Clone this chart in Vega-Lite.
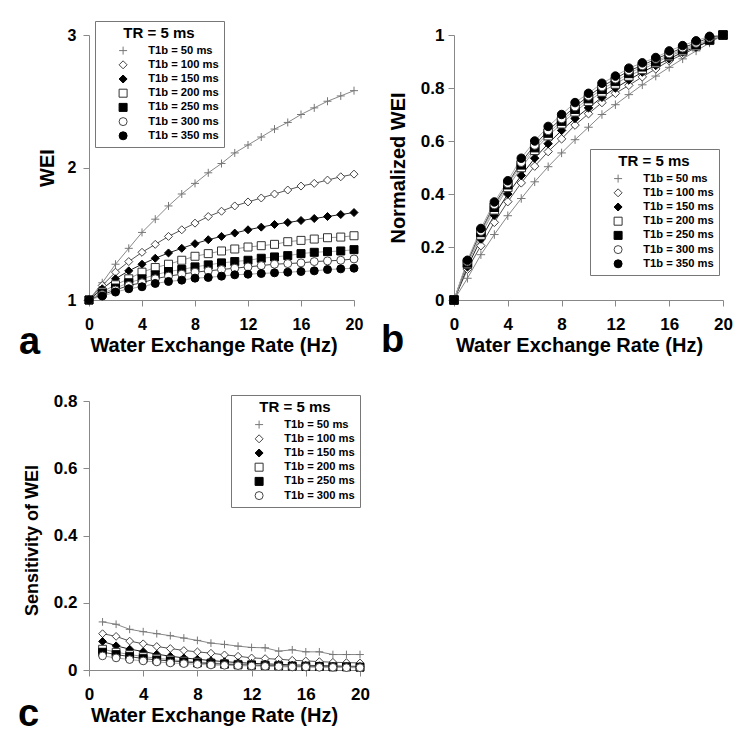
{
"$schema": "https://vega.github.io/schema/vega-lite/v6.json",
"background": "white",
"padding": {"left": 18, "top": 20, "right": 5, "bottom": 5},
"columns": 2,
"spacing": {"row": 101, "column": 94},
"bounds": "flush",
"config": {
  "font": "Liberation Sans",
  "view": {"stroke": null},
  "axis": {"grid": false, "domainColor": "#888", "tickColor": "#888", "domainWidth": 1, "tickWidth": 1, "tickSize": 6, "labelFlush": false,
    "labelFont": "Liberation Sans", "labelFontWeight": "bold", "labelColor": "black", "labelFontSize": 16, "labelPadding": 7,
    "titleFont": "Liberation Sans", "titleFontWeight": "bold", "titleColor": "black", "titleFontSize": 20, "titlePadding": 6},
  "axisX": {"labelPadding": 10, "titlePadding": 3},
  "legend": {"titleFont": "Liberation Sans", "titleFontWeight": "bold", "titleFontSize": 15, "titleColor": "black", "titleAnchor": "middle", "titlePadding": 4,
    "labelFont": "Liberation Sans", "labelFontWeight": "bold", "labelFontSize": 11.2, "labelColor": "black",
    "strokeColor": "#777", "fillColor": "white", "padding": 5, "symbolSize": 64, "symbolStrokeWidth": 1, "symbolOffset": 17.5, "labelOffset": 19.5,
    "rowPadding": 1.2}
},
"resolve": {"scale": {"shape": "independent", "fill": "independent", "stroke": "independent"}, "legend": {"shape": "independent", "fill": "independent", "stroke": "independent"}},
"datasets": {
"A": [
{"t":50,"x":0,"v":1},{"t":50,"x":1,"v":1.13},{"t":50,"x":2,"v":1.27},{"t":50,"x":3,"v":1.39},{"t":50,"x":4,"v":1.51},{"t":50,"x":5,"v":1.61},{"t":50,"x":6,"v":1.71},{"t":50,"x":7,"v":1.8},{"t":50,"x":8,"v":1.88},{"t":50,"x":9,"v":1.96},{"t":50,"x":10,"v":2.03},{"t":50,"x":11,"v":2.11},{"t":50,"x":12,"v":2.17},{"t":50,"x":13,"v":2.23},{"t":50,"x":14,"v":2.29},{"t":50,"x":15,"v":2.34},{"t":50,"x":16,"v":2.4},{"t":50,"x":17,"v":2.45},{"t":50,"x":18,"v":2.5},{"t":50,"x":19,"v":2.54},{"t":50,"x":20,"v":2.58},
{"t":100,"x":0,"v":1},{"t":100,"x":1,"v":1.11},{"t":100,"x":2,"v":1.21},{"t":100,"x":3,"v":1.29},{"t":100,"x":4,"v":1.36},{"t":100,"x":5,"v":1.42},{"t":100,"x":6,"v":1.48},{"t":100,"x":7,"v":1.53},{"t":100,"x":8,"v":1.58},{"t":100,"x":9,"v":1.63},{"t":100,"x":10,"v":1.67},{"t":100,"x":11,"v":1.71},{"t":100,"x":12,"v":1.74},{"t":100,"x":13,"v":1.77},{"t":100,"x":14,"v":1.8},{"t":100,"x":15,"v":1.83},{"t":100,"x":16,"v":1.86},{"t":100,"x":17,"v":1.88},{"t":100,"x":18,"v":1.905},{"t":100,"x":19,"v":1.93},{"t":100,"x":20,"v":1.95},
{"t":150,"x":0,"v":1},{"t":150,"x":1,"v":1.085},{"t":150,"x":2,"v":1.16},{"t":150,"x":3,"v":1.22},{"t":150,"x":4,"v":1.27},{"t":150,"x":5,"v":1.315},{"t":150,"x":6,"v":1.355},{"t":150,"x":7,"v":1.39},{"t":150,"x":8,"v":1.425},{"t":150,"x":9,"v":1.455},{"t":150,"x":10,"v":1.48},{"t":150,"x":11,"v":1.505},{"t":150,"x":12,"v":1.53},{"t":150,"x":13,"v":1.55},{"t":150,"x":14,"v":1.57},{"t":150,"x":15,"v":1.585},{"t":150,"x":16,"v":1.6},{"t":150,"x":17,"v":1.615},{"t":150,"x":18,"v":1.63},{"t":150,"x":19,"v":1.645},{"t":150,"x":20,"v":1.66},
{"t":200,"x":0,"v":1},{"t":200,"x":1,"v":1.06},{"t":200,"x":2,"v":1.115},{"t":200,"x":3,"v":1.16},{"t":200,"x":4,"v":1.21},{"t":200,"x":5,"v":1.245},{"t":200,"x":6,"v":1.27},{"t":200,"x":7,"v":1.3},{"t":200,"x":8,"v":1.33},{"t":200,"x":9,"v":1.35},{"t":200,"x":10,"v":1.37},{"t":200,"x":11,"v":1.385},{"t":200,"x":12,"v":1.4},{"t":200,"x":13,"v":1.41},{"t":200,"x":14,"v":1.42},{"t":200,"x":15,"v":1.44},{"t":200,"x":16,"v":1.45},{"t":200,"x":17,"v":1.46},{"t":200,"x":18,"v":1.47},{"t":200,"x":19,"v":1.475},{"t":200,"x":20,"v":1.485},
{"t":250,"x":0,"v":1},{"t":250,"x":1,"v":1.05},{"t":250,"x":2,"v":1.09},{"t":250,"x":3,"v":1.13},{"t":250,"x":4,"v":1.16},{"t":250,"x":5,"v":1.19},{"t":250,"x":6,"v":1.215},{"t":250,"x":7,"v":1.23},{"t":250,"x":8,"v":1.25},{"t":250,"x":9,"v":1.265},{"t":250,"x":10,"v":1.28},{"t":250,"x":11,"v":1.29},{"t":250,"x":12,"v":1.3},{"t":250,"x":13,"v":1.315},{"t":250,"x":14,"v":1.325},{"t":250,"x":15,"v":1.335},{"t":250,"x":16,"v":1.35},{"t":250,"x":17,"v":1.36},{"t":250,"x":18,"v":1.365},{"t":250,"x":19,"v":1.37},{"t":250,"x":20,"v":1.38},
{"t":300,"x":0,"v":1},{"t":300,"x":1,"v":1.04},{"t":300,"x":2,"v":1.075},{"t":300,"x":3,"v":1.11},{"t":300,"x":4,"v":1.13},{"t":300,"x":5,"v":1.16},{"t":300,"x":6,"v":1.18},{"t":300,"x":7,"v":1.195},{"t":300,"x":8,"v":1.21},{"t":300,"x":9,"v":1.22},{"t":300,"x":10,"v":1.23},{"t":300,"x":11,"v":1.24},{"t":300,"x":12,"v":1.25},{"t":300,"x":13,"v":1.26},{"t":300,"x":14,"v":1.27},{"t":300,"x":15,"v":1.275},{"t":300,"x":16,"v":1.28},{"t":300,"x":17,"v":1.29},{"t":300,"x":18,"v":1.295},{"t":300,"x":19,"v":1.3},{"t":300,"x":20,"v":1.31},
{"t":350,"x":0,"v":1},{"t":350,"x":1,"v":1.03},{"t":350,"x":2,"v":1.06},{"t":350,"x":3,"v":1.085},{"t":350,"x":4,"v":1.1},{"t":350,"x":5,"v":1.125},{"t":350,"x":6,"v":1.14},{"t":350,"x":7,"v":1.15},{"t":350,"x":8,"v":1.165},{"t":350,"x":9,"v":1.17},{"t":350,"x":10,"v":1.18},{"t":350,"x":11,"v":1.19},{"t":350,"x":12,"v":1.195},{"t":350,"x":13,"v":1.2},{"t":350,"x":14,"v":1.205},{"t":350,"x":15,"v":1.21},{"t":350,"x":16,"v":1.215},{"t":350,"x":17,"v":1.22},{"t":350,"x":18,"v":1.23},{"t":350,"x":19,"v":1.235},{"t":350,"x":20,"v":1.24}
],
"B": [
{"t":50,"x":0,"v":0},{"t":50,"x":1,"v":0.082},{"t":50,"x":2,"v":0.171},{"t":50,"x":3,"v":0.247},{"t":50,"x":4,"v":0.318},{"t":50,"x":5,"v":0.383},{"t":50,"x":6,"v":0.446},{"t":50,"x":7,"v":0.503},{"t":50,"x":8,"v":0.555},{"t":50,"x":9,"v":0.605},{"t":50,"x":10,"v":0.652},{"t":50,"x":11,"v":0.7},{"t":50,"x":12,"v":0.737},{"t":50,"x":13,"v":0.775},{"t":50,"x":14,"v":0.812},{"t":50,"x":15,"v":0.845},{"t":50,"x":16,"v":0.878},{"t":50,"x":17,"v":0.91},{"t":50,"x":18,"v":0.94},{"t":50,"x":19,"v":0.97},{"t":50,"x":20,"v":1},
{"t":100,"x":0,"v":0},{"t":100,"x":1,"v":0.116},{"t":100,"x":2,"v":0.205},{"t":100,"x":3,"v":0.293},{"t":100,"x":4,"v":0.371},{"t":100,"x":5,"v":0.442},{"t":100,"x":6,"v":0.505},{"t":100,"x":7,"v":0.56},{"t":100,"x":8,"v":0.608},{"t":100,"x":9,"v":0.66},{"t":100,"x":10,"v":0.703},{"t":100,"x":11,"v":0.745},{"t":100,"x":12,"v":0.78},{"t":100,"x":13,"v":0.81},{"t":100,"x":14,"v":0.842},{"t":100,"x":15,"v":0.872},{"t":100,"x":16,"v":0.903},{"t":100,"x":17,"v":0.926},{"t":100,"x":18,"v":0.953},{"t":100,"x":19,"v":0.978},{"t":100,"x":20,"v":1},
{"t":150,"x":0,"v":0},{"t":150,"x":1,"v":0.125},{"t":150,"x":2,"v":0.23},{"t":150,"x":3,"v":0.32},{"t":150,"x":4,"v":0.4},{"t":150,"x":5,"v":0.47},{"t":150,"x":6,"v":0.535},{"t":150,"x":7,"v":0.59},{"t":150,"x":8,"v":0.64},{"t":150,"x":9,"v":0.685},{"t":150,"x":10,"v":0.725},{"t":150,"x":11,"v":0.765},{"t":150,"x":12,"v":0.8},{"t":150,"x":13,"v":0.83},{"t":150,"x":14,"v":0.86},{"t":150,"x":15,"v":0.885},{"t":150,"x":16,"v":0.91},{"t":150,"x":17,"v":0.935},{"t":150,"x":18,"v":0.955},{"t":150,"x":19,"v":0.978},{"t":150,"x":20,"v":1},
{"t":200,"x":0,"v":0},{"t":200,"x":1,"v":0.135},{"t":200,"x":2,"v":0.245},{"t":200,"x":3,"v":0.34},{"t":200,"x":4,"v":0.425},{"t":200,"x":5,"v":0.5},{"t":200,"x":6,"v":0.565},{"t":200,"x":7,"v":0.62},{"t":200,"x":8,"v":0.665},{"t":200,"x":9,"v":0.71},{"t":200,"x":10,"v":0.75},{"t":200,"x":11,"v":0.785},{"t":200,"x":12,"v":0.815},{"t":200,"x":13,"v":0.845},{"t":200,"x":14,"v":0.87},{"t":200,"x":15,"v":0.895},{"t":200,"x":16,"v":0.92},{"t":200,"x":17,"v":0.94},{"t":200,"x":18,"v":0.96},{"t":200,"x":19,"v":0.98},{"t":200,"x":20,"v":1},
{"t":250,"x":0,"v":0},{"t":250,"x":1,"v":0.14},{"t":250,"x":2,"v":0.255},{"t":250,"x":3,"v":0.35},{"t":250,"x":4,"v":0.435},{"t":250,"x":5,"v":0.51},{"t":250,"x":6,"v":0.575},{"t":250,"x":7,"v":0.63},{"t":250,"x":8,"v":0.675},{"t":250,"x":9,"v":0.72},{"t":250,"x":10,"v":0.76},{"t":250,"x":11,"v":0.795},{"t":250,"x":12,"v":0.825},{"t":250,"x":13,"v":0.855},{"t":250,"x":14,"v":0.88},{"t":250,"x":15,"v":0.9},{"t":250,"x":16,"v":0.925},{"t":250,"x":17,"v":0.945},{"t":250,"x":18,"v":0.965},{"t":250,"x":19,"v":0.982},{"t":250,"x":20,"v":1},
{"t":300,"x":0,"v":0},{"t":300,"x":1,"v":0.145},{"t":300,"x":2,"v":0.26},{"t":300,"x":3,"v":0.36},{"t":300,"x":4,"v":0.44},{"t":300,"x":5,"v":0.52},{"t":300,"x":6,"v":0.585},{"t":300,"x":7,"v":0.64},{"t":300,"x":8,"v":0.685},{"t":300,"x":9,"v":0.73},{"t":300,"x":10,"v":0.77},{"t":300,"x":11,"v":0.805},{"t":300,"x":12,"v":0.835},{"t":300,"x":13,"v":0.865},{"t":300,"x":14,"v":0.885},{"t":300,"x":15,"v":0.91},{"t":300,"x":16,"v":0.93},{"t":300,"x":17,"v":0.952},{"t":300,"x":18,"v":0.97},{"t":300,"x":19,"v":0.99},{"t":300,"x":20,"v":1},
{"t":350,"x":0,"v":0},{"t":350,"x":1,"v":0.15},{"t":350,"x":2,"v":0.27},{"t":350,"x":3,"v":0.37},{"t":350,"x":4,"v":0.45},{"t":350,"x":5,"v":0.535},{"t":350,"x":6,"v":0.6},{"t":350,"x":7,"v":0.655},{"t":350,"x":8,"v":0.7},{"t":350,"x":9,"v":0.745},{"t":350,"x":10,"v":0.78},{"t":350,"x":11,"v":0.818},{"t":350,"x":12,"v":0.845},{"t":350,"x":13,"v":0.875},{"t":350,"x":14,"v":0.895},{"t":350,"x":15,"v":0.915},{"t":350,"x":16,"v":0.94},{"t":350,"x":17,"v":0.96},{"t":350,"x":18,"v":0.978},{"t":350,"x":19,"v":0.995},{"t":350,"x":20,"v":1}
],
"C": [
{"t":50,"x":1,"v":0.143},{"t":50,"x":2,"v":0.136},{"t":50,"x":3,"v":0.121},{"t":50,"x":4,"v":0.114},{"t":50,"x":5,"v":0.108},{"t":50,"x":6,"v":0.102},{"t":50,"x":7,"v":0.095},{"t":50,"x":8,"v":0.088},{"t":50,"x":9,"v":0.08},{"t":50,"x":10,"v":0.076},{"t":50,"x":11,"v":0.071},{"t":50,"x":12,"v":0.067},{"t":50,"x":13,"v":0.066},{"t":50,"x":14,"v":0.056},{"t":50,"x":15,"v":0.06},{"t":50,"x":16,"v":0.054},{"t":50,"x":17,"v":0.054},{"t":50,"x":18,"v":0.046},{"t":50,"x":19,"v":0.046},{"t":50,"x":20,"v":0.046},
{"t":100,"x":1,"v":0.108},{"t":100,"x":2,"v":0.1},{"t":100,"x":3,"v":0.086},{"t":100,"x":4,"v":0.078},{"t":100,"x":5,"v":0.07},{"t":100,"x":6,"v":0.064},{"t":100,"x":7,"v":0.058},{"t":100,"x":8,"v":0.054},{"t":100,"x":9,"v":0.05},{"t":100,"x":10,"v":0.045},{"t":100,"x":11,"v":0.041},{"t":100,"x":12,"v":0.036},{"t":100,"x":13,"v":0.034},{"t":100,"x":14,"v":0.032},{"t":100,"x":15,"v":0.029},{"t":100,"x":16,"v":0.027},{"t":100,"x":17,"v":0.025},{"t":100,"x":18,"v":0.023},{"t":100,"x":19,"v":0.022},{"t":100,"x":20,"v":0.021},
{"t":150,"x":1,"v":0.085},{"t":150,"x":2,"v":0.072},{"t":150,"x":3,"v":0.062},{"t":150,"x":4,"v":0.055},{"t":150,"x":5,"v":0.047},{"t":150,"x":6,"v":0.041},{"t":150,"x":7,"v":0.036},{"t":150,"x":8,"v":0.032},{"t":150,"x":9,"v":0.028},{"t":150,"x":10,"v":0.025},{"t":150,"x":11,"v":0.022},{"t":150,"x":12,"v":0.02},{"t":150,"x":13,"v":0.018},{"t":150,"x":14,"v":0.017},{"t":150,"x":15,"v":0.015},{"t":150,"x":16,"v":0.014},{"t":150,"x":17,"v":0.013},{"t":150,"x":18,"v":0.012},{"t":150,"x":19,"v":0.011},{"t":150,"x":20,"v":0.011},
{"t":200,"x":1,"v":0.062},{"t":200,"x":2,"v":0.053},{"t":200,"x":3,"v":0.046},{"t":200,"x":4,"v":0.04},{"t":200,"x":5,"v":0.035},{"t":200,"x":6,"v":0.031},{"t":200,"x":7,"v":0.027},{"t":200,"x":8,"v":0.024},{"t":200,"x":9,"v":0.021},{"t":200,"x":10,"v":0.019},{"t":200,"x":11,"v":0.017},{"t":200,"x":12,"v":0.016},{"t":200,"x":13,"v":0.015},{"t":200,"x":14,"v":0.013},{"t":200,"x":15,"v":0.012},{"t":200,"x":16,"v":0.012},{"t":200,"x":17,"v":0.011},{"t":200,"x":18,"v":0.01},{"t":200,"x":19,"v":0.01},{"t":200,"x":20,"v":0.009},
{"t":250,"x":1,"v":0.053},{"t":250,"x":2,"v":0.046},{"t":250,"x":3,"v":0.04},{"t":250,"x":4,"v":0.034},{"t":250,"x":5,"v":0.03},{"t":250,"x":6,"v":0.027},{"t":250,"x":7,"v":0.024},{"t":250,"x":8,"v":0.021},{"t":250,"x":9,"v":0.019},{"t":250,"x":10,"v":0.017},{"t":250,"x":11,"v":0.015},{"t":250,"x":12,"v":0.014},{"t":250,"x":13,"v":0.013},{"t":250,"x":14,"v":0.012},{"t":250,"x":15,"v":0.011},{"t":250,"x":16,"v":0.01},{"t":250,"x":17,"v":0.01},{"t":250,"x":18,"v":0.009},{"t":250,"x":19,"v":0.009},{"t":250,"x":20,"v":0.008},
{"t":300,"x":1,"v":0.042},{"t":300,"x":2,"v":0.036},{"t":300,"x":3,"v":0.031},{"t":300,"x":4,"v":0.027},{"t":300,"x":5,"v":0.024},{"t":300,"x":6,"v":0.021},{"t":300,"x":7,"v":0.019},{"t":300,"x":8,"v":0.017},{"t":300,"x":9,"v":0.015},{"t":300,"x":10,"v":0.014},{"t":300,"x":11,"v":0.013},{"t":300,"x":12,"v":0.012},{"t":300,"x":13,"v":0.011},{"t":300,"x":14,"v":0.01},{"t":300,"x":15,"v":0.009},{"t":300,"x":16,"v":0.009},{"t":300,"x":17,"v":0.008},{"t":300,"x":18,"v":0.008},{"t":300,"x":19,"v":0.007},{"t":300,"x":20,"v":0.007}
]
},
"concat": [
{
  "width": 265, "height": 265,
  "data": {"name": "A"},
  "title": {"text": "a", "orient": "bottom", "anchor": "start", "frame": "group", "dx": -70, "dy": -31, "offset": 0, "fontSize": 38, "font": "Liberation Sans", "fontWeight": "bold", "color": "black"},
  "encoding": {
    "x": {"field": "x", "type": "quantitative", "scale": {"domain": [0, 20], "nice": false}, "axis": {"values": [0, 4, 8, 12, 16, 20], "title": "Water Exchange Rate (Hz)", "titleX": 124.5}},
    "y": {"field": "v", "type": "quantitative", "scale": {"domain": [1, 3], "nice": false, "zero": false}, "axis": {"values": [1, 2, 3], "format": "~g", "title": "WEI", "titlePadding": 10}}
  },
  "layer": [
    {"mark": {"type": "line", "strokeWidth": 1},
     "encoding": {"detail": {"field": "t", "type": "nominal"},
       "color": {"condition": [{"test": "datum.t==50", "value": "#888"}, {"test": "datum.t==100", "value": "#555"}, {"test": "datum.t==150", "value": "#222"}, {"test": "datum.t==200", "value": "#999"}, {"test": "datum.t==300", "value": "#444"}], "value": "#aaa"}}},
    {"mark": {"type": "point", "opacity": 1, "strokeWidth": 1, "size": 64},
     "encoding": {
       "shape": {"field": "t", "type": "nominal", "scale": {"domain": [50,100,150,200,250,300,350], "range": ["M-1,0L1,0M0,-1L0,1","diamond","diamond","square","square","circle","circle"]},
         "legend": {"title": "TR = 5 ms", "orient": "none", "legendX": 6, "legendY": -14, "labelExpr": "'T1b = ' + datum.label + ' ms'",
           "encode": {"symbols": {"update": {
             "strokeWidth": {"value": 1},
             "shape": {"signal": "['M-5,0L5,0M0,-1L0,1','M-5,0L-1,0M1,0L5,0M0,-1L1,0L0,1L-1,0Z','M-5,0L-1,0M1,0L5,0M0,-1L1,0L0,1L-1,0Z','M-5,0L-0.9,0M0.9,0L5,0M-0.9,-0.9L0.9,-0.9L0.9,0.9L-0.9,0.9Z','M-5,0L-0.9,0M0.9,0L5,0M-0.9,-0.9L0.9,-0.9L0.9,0.9L-0.9,0.9Z','M-5,0L-0.9,0M0.9,0L5,0M0.9,0A0.9,0.9,0,1,1,-0.9,0A0.9,0.9,0,1,1,0.9,0Z','M-5,0L-0.9,0M0.9,0L5,0M0.9,0A0.9,0.9,0,1,1,-0.9,0A0.9,0.9,0,1,1,0.9,0Z'][datum.value/50-1]"}
           }}}}},
       "fill": {"field": "t", "type": "nominal", "scale": {"domain": [50,100,150,200,250,300,350], "range": ["transparent","white","black","white","black","white","black"]},
         "legend": {"title": "TR = 5 ms", "orient": "none", "legendX": 6, "legendY": -14, "labelExpr": "'T1b = ' + datum.label + ' ms'"}},
       "stroke": {"field": "t", "type": "nominal", "scale": {"domain": [50,100,150,200,250,300,350], "range": ["#777","#444","black","#333","black","#444","black"]},
         "legend": {"title": "TR = 5 ms", "orient": "none", "legendX": 6, "legendY": -14, "labelExpr": "'T1b = ' + datum.label + ' ms'"}}
     }}
  ]
},
{
  "width": 269, "height": 265,
  "data": {"name": "B"},
  "title": {"text": "b", "orient": "bottom", "anchor": "start", "frame": "group", "dx": -73, "dy": -33, "offset": 0, "fontSize": 38, "font": "Liberation Sans", "fontWeight": "bold", "color": "black"},
  "encoding": {
    "x": {"field": "x", "type": "quantitative", "scale": {"domain": [0, 20], "nice": false}, "axis": {"values": [0, 4, 8, 12, 16, 20], "title": "Water Exchange Rate (Hz)", "labelFontSize": 17, "titleX": 125}},
    "y": {"field": "v", "type": "quantitative", "scale": {"domain": [0, 1], "nice": false}, "axis": {"values": [0, 0.2, 0.4, 0.6, 0.8, 1], "format": "~g", "title": "Normalized WEI", "labelFontSize": 17, "labelPadding": 4, "titlePadding": 12}}
  },
  "layer": [
    {"mark": {"type": "line", "strokeWidth": 1},
     "encoding": {"detail": {"field": "t", "type": "nominal"},
       "color": {"condition": [{"test": "datum.t==50", "value": "#888"}, {"test": "datum.t==100", "value": "#555"}, {"test": "datum.t==150", "value": "#222"}, {"test": "datum.t==200", "value": "#999"}, {"test": "datum.t==300", "value": "#444"}], "value": "#aaa"}}},
    {"mark": {"type": "point", "opacity": 1, "strokeWidth": 1, "size": 72},
     "encoding": {
       "shape": {"field": "t", "type": "nominal", "scale": {"domain": [50,100,150,200,250,300,350], "range": ["M-1,0L1,0M0,-1L0,1","diamond","diamond","square","square","circle","circle"]},
         "legend": {"title": "TR = 5 ms", "orient": "none", "legendX": 136, "legendY": 114, "labelExpr": "'T1b = ' + datum.label + ' ms'",
           "encode": {"symbols": {"update": {
             "strokeWidth": {"value": 1},
             "shape": {"signal": "['M-5,0L5,0M0,-1L0,1','M-5,0L-1,0M1,0L5,0M0,-1L1,0L0,1L-1,0Z','M-5,0L-1,0M1,0L5,0M0,-1L1,0L0,1L-1,0Z','M-5,0L-0.9,0M0.9,0L5,0M-0.9,-0.9L0.9,-0.9L0.9,0.9L-0.9,0.9Z','M-5,0L-0.9,0M0.9,0L5,0M-0.9,-0.9L0.9,-0.9L0.9,0.9L-0.9,0.9Z','M-5,0L-0.9,0M0.9,0L5,0M0.9,0A0.9,0.9,0,1,1,-0.9,0A0.9,0.9,0,1,1,0.9,0Z','M-5,0L-0.9,0M0.9,0L5,0M0.9,0A0.9,0.9,0,1,1,-0.9,0A0.9,0.9,0,1,1,0.9,0Z'][datum.value/50-1]"}
           }}}}},
       "fill": {"field": "t", "type": "nominal", "scale": {"domain": [50,100,150,200,250,300,350], "range": ["transparent","white","black","white","black","white","black"]},
         "legend": {"title": "TR = 5 ms", "orient": "none", "legendX": 136, "legendY": 114, "labelExpr": "'T1b = ' + datum.label + ' ms'"}},
       "stroke": {"field": "t", "type": "nominal", "scale": {"domain": [50,100,150,200,250,300,350], "range": ["#777","#444","black","#333","black","#444","black"]},
         "legend": {"title": "TR = 5 ms", "orient": "none", "legendX": 136, "legendY": 114, "labelExpr": "'T1b = ' + datum.label + ' ms'"}}
     }}
  ]
},
{
  "width": 271, "height": 269,
  "data": {"name": "C"},
  "title": {"text": "c", "orient": "bottom", "anchor": "start", "frame": "group", "dx": -71, "dy": -29, "offset": 0, "fontSize": 38, "font": "Liberation Sans", "fontWeight": "bold", "color": "black"},
  "encoding": {
    "x": {"field": "x", "type": "quantitative", "scale": {"domain": [0, 20], "nice": false}, "axis": {"values": [0, 4, 8, 12, 16, 20], "title": "Water Exchange Rate (Hz)", "labelFontSize": 17, "titleX": 125}},
    "y": {"field": "v", "type": "quantitative", "scale": {"domain": [0, 0.8], "nice": false}, "axis": {"values": [0, 0.2, 0.4, 0.6, 0.8], "format": "~g", "title": "Sensitivity of WEI", "titleFontSize": 18, "titleY": 139, "labelFontSize": 17, "labelPadding": 6, "titlePadding": 12}}
  },
  "layer": [
    {"mark": {"type": "line", "strokeWidth": 1},
     "encoding": {"detail": {"field": "t", "type": "nominal"},
       "color": {"condition": [{"test": "datum.t==50", "value": "#888"}, {"test": "datum.t==100", "value": "#555"}, {"test": "datum.t==150", "value": "#222"}, {"test": "datum.t==200", "value": "#999"}, {"test": "datum.t==250", "value": "#444"}], "value": "#aaa"}}},
    {"mark": {"type": "point", "opacity": 1, "strokeWidth": 1, "size": 60},
     "encoding": {
       "shape": {"field": "t", "type": "nominal", "scale": {"domain": [50,100,150,200,250,300], "range": ["M-1,0L1,0M0,-1L0,1","diamond","diamond","square","square","circle"]},
         "legend": {"title": "TR = 5 ms", "orient": "none", "legendX": 142, "legendY": -6, "labelExpr": "'T1b = ' + datum.label + ' ms'",
           "encode": {"symbols": {"update": {
             "strokeWidth": {"value": 1},
             "shape": {"signal": "['M-5,0L5,0M0,-1L0,1','M-5,0L-1,0M1,0L5,0M0,-1L1,0L0,1L-1,0Z','M-5,0L-1,0M1,0L5,0M0,-1L1,0L0,1L-1,0Z','M-5,0L-0.9,0M0.9,0L5,0M-0.9,-0.9L0.9,-0.9L0.9,0.9L-0.9,0.9Z','M-5,0L-0.9,0M0.9,0L5,0M-0.9,-0.9L0.9,-0.9L0.9,0.9L-0.9,0.9Z','M-5,0L-0.9,0M0.9,0L5,0M0.9,0A0.9,0.9,0,1,1,-0.9,0A0.9,0.9,0,1,1,0.9,0Z'][datum.value/50-1]"}
           }}}}},
       "fill": {"field": "t", "type": "nominal", "scale": {"domain": [50,100,150,200,250,300], "range": ["transparent","white","black","white","black","white"]},
         "legend": {"title": "TR = 5 ms", "orient": "none", "legendX": 142, "legendY": -6, "labelExpr": "'T1b = ' + datum.label + ' ms'"}},
       "stroke": {"field": "t", "type": "nominal", "scale": {"domain": [50,100,150,200,250,300], "range": ["#777","#444","black","#333","black","#444"]},
         "legend": {"title": "TR = 5 ms", "orient": "none", "legendX": 142, "legendY": -6, "labelExpr": "'T1b = ' + datum.label + ' ms'"}}
     }}
  ]
}
]
}
